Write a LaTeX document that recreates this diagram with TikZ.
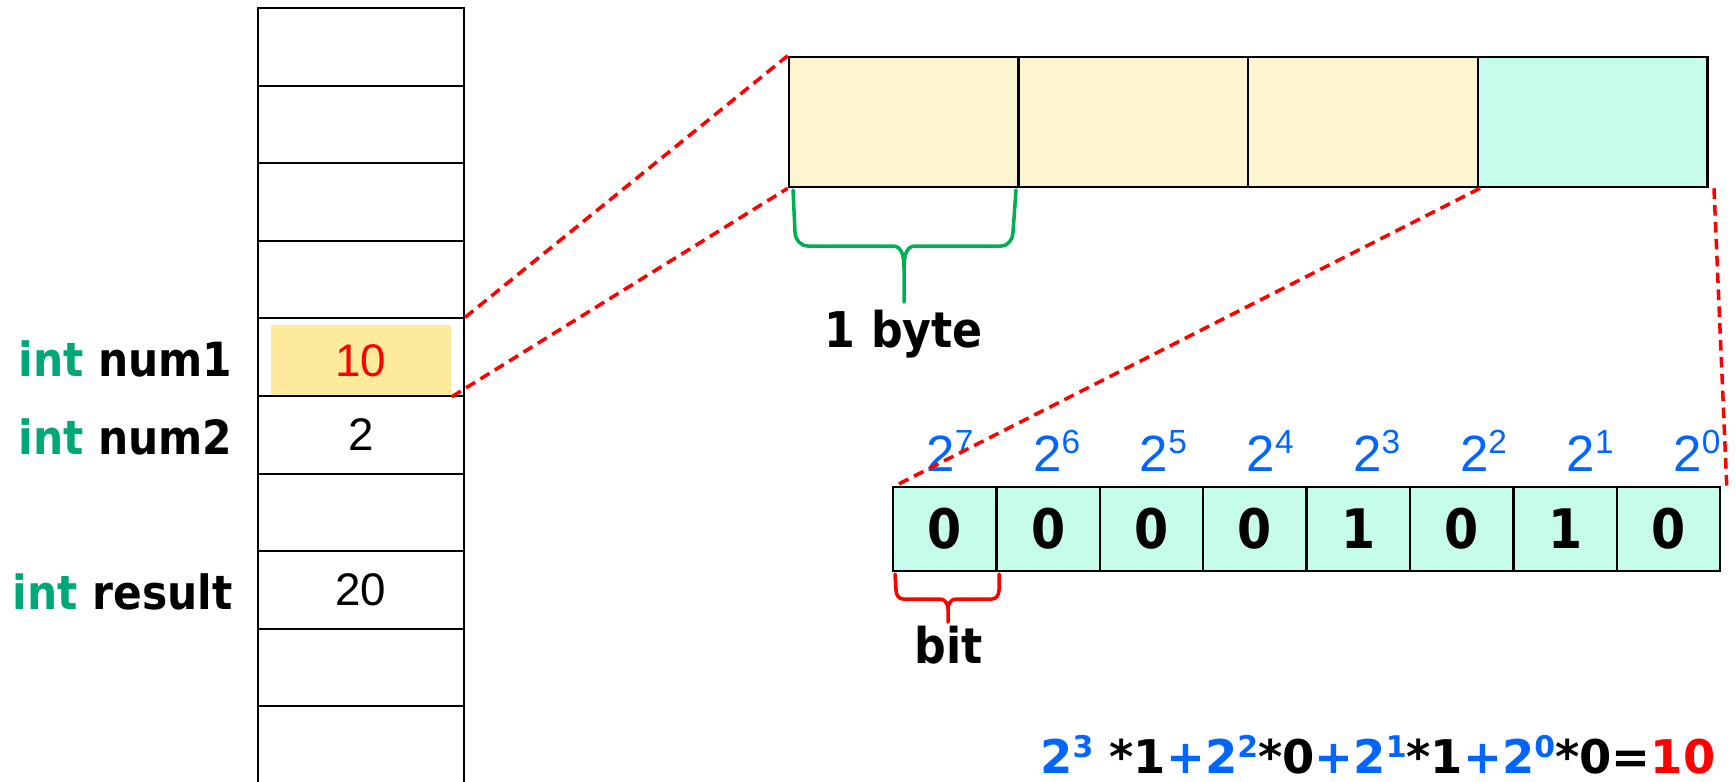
\documentclass[tikz,border=0pt]{standalone}
\usepackage{fontspec}
\setmainfont{Liberation Sans}
\newfontfamily\lblfont{DejaVu Sans Condensed}
\newfontfamily\eqfont{DejaVu Sans}
\usetikzlibrary{arrows.meta}

\definecolor{intgreen}{RGB}{0,168,120}
\definecolor{bracegreen}{RGB}{0,176,80}
\definecolor{pblue}{RGB}{0,102,255}
\definecolor{hiyellow}{RGB}{253,234,156}
\definecolor{bytey}{RGB}{253,245,208}
\definecolor{bitc}{RGB}{198,252,236}

% powers above the bit row, and small raised digits in the sum
\newcommand{\pw}[1]{2\raisebox{5pt}{\fontsize{9.5}{9.5}\selectfont #1}}
\newcommand{\eqsup}[1]{\raisebox{4.5pt}{\fontsize{8.5}{8.5}\selectfont #1}}

\tikzset{
  memcell/.style={draw,line width=0.6pt,inner sep=0pt,minimum width=2.06cm,minimum height=0.776cm,font=\fontsize{13}{13}\selectfont},
  hilite/.style={fill=hiyellow,inner sep=0pt,minimum width=1.8cm,minimum height=0.71cm,font=\fontsize{13}{13}\selectfont},
  varlabel/.style={anchor=base east,inner sep=0pt,font=\lblfont\bfseries\fontsize{13.4}{13.4}\selectfont},
  bytebox/.style={draw,line width=0.7pt,inner sep=0pt,minimum width=2.296cm,minimum height=1.3cm},
  bitbox/.style={draw,line width=0.7pt,fill=bitc,inner sep=0pt,minimum width=1.034cm,minimum height=0.84cm,font=\lblfont\bfseries\fontsize{15.5}{15.5}\selectfont},
  power/.style={anchor=base,inner sep=0pt,text=pblue,font=\fontsize{14.5}{14.5}\selectfont},
  zoomline/.style={red,dashed,line width=1pt,dash pattern=on 3pt off 1.8pt},
  bracegr/.style={bracegreen,line width=1pt,line cap=round,line join=round},
  bracered/.style={red,line width=1pt,line cap=round,line join=round},
  bracetext/.style={anchor=base,inner sep=0pt,font=\lblfont\bfseries\fontsize{14}{14}\selectfont}
}

\begin{document}
\begin{tikzpicture}[x=0.01cm,y=-0.01cm]
\useasboundingbox (0,0) rectangle (1736,781);

% memory column
\node[hilite] (hl) at (361,360.5) {\color{red}10};
\foreach \i in {0,...,9}
  \node[memcell] (m\i) at (361,{46.8+77.6*\i}) {};
\node[memcell,draw=none] (v5) at (m5) {2};
\node[memcell,draw=none] (v7) at (m7) {20};

\node[varlabel] (num1) at (233,376) {\textcolor{intgreen}{int} num1};
\node[varlabel] (num2) at (233,454) {\textcolor{intgreen}{int} num2};
\node[varlabel] (res) at (233,609) {\textcolor{intgreen}{int} result};

% four bytes
\foreach \c [count=\i from 0] in {bytey,bytey,bytey,bitc}
  \node[bytebox,fill=\c] (b\i) at ({903.8+229.6*\i},122) {};

% eight bits
\foreach \b [count=\i from 0] in {0,0,0,0,1,0,1,0}
  \node[bitbox] (bit\i) at ({944.7+103.4*\i},529) {\b};
\foreach \e [count=\i from 0] in {7,6,5,4,3,2,1,0}
  \node[power] (p\i) at ({950+106.7*\i},471) {\pw{\e}};

% zoom lines
\draw[zoomline] (m4.north east) -- (b0.north west);
\draw[zoomline] (hl.south east) -- (b0.south west);
\draw[zoomline] ([xshift=1pt]b3.south west) -- ([xshift=1pt]bit0.north west);
\draw[zoomline] ([xshift=1.5pt]b3.south east) -- ([xshift=1.5pt]bit7.north east);

% braces
\draw[bracegr] (793,190) -- (795,232) to[out=-90,in=180] (808,246) -- (893,246)
  to[out=0,in=90] (904,268) -- (904,302);
\draw[bracegr] (904,268) to[out=90,in=180] (915,246) -- (1001,246)
  to[out=0,in=-90] (1013,232) -- (1016,190);
\node[bracetext] (byte) at (904,347) {1 byte};

\draw[bracered] (895,574) -- (896,590) to[out=-90,in=180] (903,599) -- (940,599)
  to[out=0,in=90] (948,609) -- (948,622);
\draw[bracered] (948,609) to[out=90,in=180] (956,599) -- (992,599)
  to[out=0,in=-90] (999,590) -- (999,574);
\node[bracetext] (bit) at (949,663) {bit};

% the sum
\node[anchor=base east,inner sep=0pt,font=\eqfont\bfseries\fontsize{13.2}{13.2}\selectfont] (sum) at (1716,773)
  {{\color{pblue}2\eqsup{3}} *1{\color{pblue}+2\eqsup{2}}*0{\color{pblue}+2\eqsup{1}}*1{\color{pblue}+2\eqsup{0}}*0={\color{red}10}};
\end{tikzpicture}
\end{document}
